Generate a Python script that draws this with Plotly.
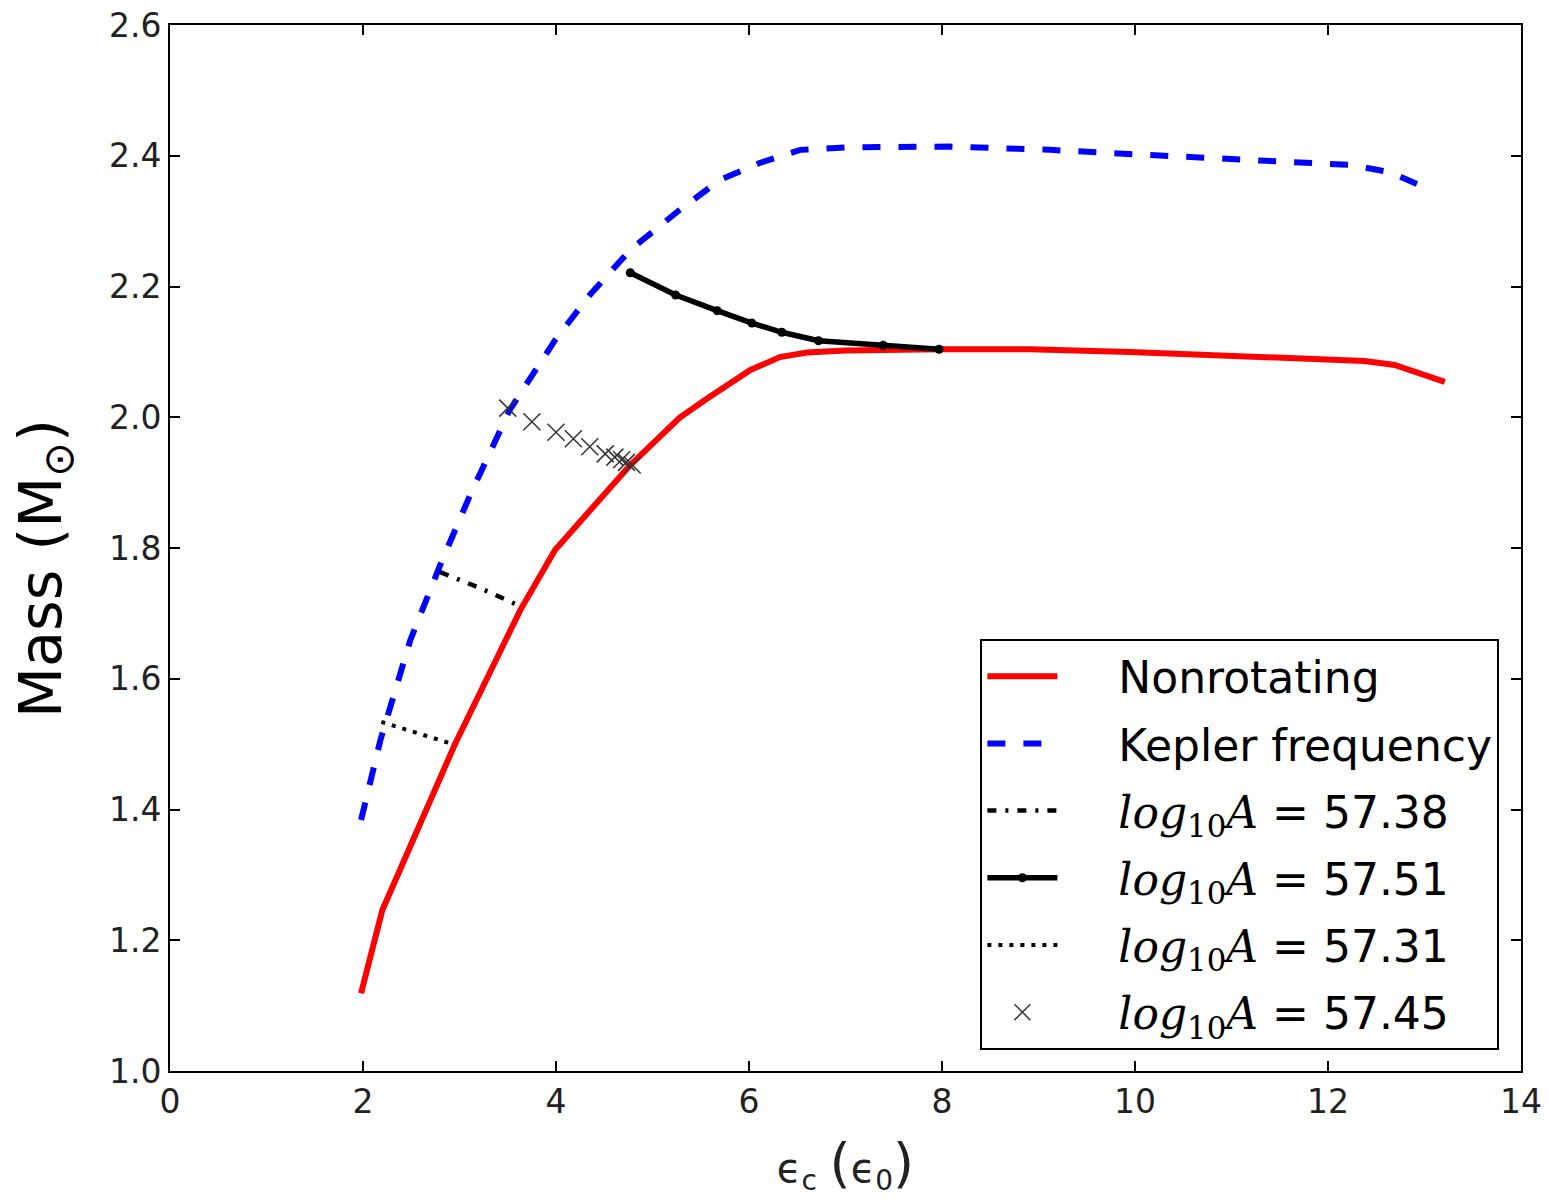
import plotly.graph_objects as go

# Nonrotating
nr_x = [1.98, 2.2, 2.95, 3.63, 3.99, 4.4, 4.77, 5.28, 5.54, 6.01, 6.32, 6.6, 7.0, 7.98, 8.91, 9.95, 11.19, 12.38, 12.69, 13.21]
nr_y = [1.119, 1.246, 1.499, 1.705, 1.797, 1.867, 1.927, 1.999, 2.026, 2.072, 2.092, 2.099, 2.102, 2.104, 2.104, 2.100, 2.092, 2.086, 2.080, 2.054]

# Kepler frequency
kp_x = [1.98, 2.18, 2.49, 2.80, 3.11, 3.52, 3.99, 4.35, 4.77, 5.28, 5.70, 6.11, 6.53, 7.05, 8.08, 9.12, 10.16, 11.19, 12.23, 12.64, 13.06]
kp_y = [1.384, 1.506, 1.659, 1.774, 1.881, 2.011, 2.118, 2.187, 2.256, 2.317, 2.363, 2.389, 2.409, 2.413, 2.414, 2.409, 2.401, 2.393, 2.386, 2.375, 2.348]

# log10A = 57.38
a38_x = [2.80, 3.21, 3.63]
a38_y = [1.763, 1.739, 1.711]

# log10A = 57.51
a51_x = [4.77, 5.24, 5.67, 6.03, 6.34, 6.72, 7.39, 7.97]
a51_y = [2.221, 2.187, 2.163, 2.144, 2.130, 2.117, 2.110, 2.104]

# log10A = 57.31
a31_x = [2.19, 2.93]
a31_y = [1.534, 1.500]

# log10A = 57.45
a45_x = [3.50, 3.75, 4.00, 4.18, 4.35, 4.51, 4.61, 4.68, 4.73, 4.79]
a45_y = [2.014, 1.993, 1.977, 1.967, 1.955, 1.944, 1.939, 1.935, 1.931, 1.927]

x_ticks = [0, 2, 4, 6, 8, 10, 12, 14]
y_ticks = [1.0, 1.2, 1.4, 1.6, 1.8, 2.0, 2.2, 2.4, 2.6]

PAD = "\u00a0" * 4

def lg(v):
    return (PAD + '<span style="font-family:\'DejaVu Serif\'"><i>log</i><sub>10</sub><i>A</i></span>'
            ' = ' + v)

fig = go.Figure()
fig.add_trace(go.Scatter(x=nr_x, y=nr_y, mode="lines", name=PAD + "Nonrotating",
                         line=dict(color="#ff0000", width=6), legendgroup="g1"))
fig.add_trace(go.Scatter(x=kp_x, y=kp_y, mode="lines", name=PAD + "Kepler frequency",
                         line=dict(color="#0000ff", width=6, dash="18px,18px"), legendgroup="g2"))
fig.add_trace(go.Scatter(x=a38_x, y=a38_y, mode="lines", name=lg("57.38"),
                         line=dict(color="black", width=4.5, dash="9px,9px,3px,9px"), legendgroup="g3"))
fig.add_trace(go.Scatter(x=a51_x, y=a51_y, mode="lines+markers", name=lg("57.51"),
                         line=dict(color="black", width=5.5),
                         marker=dict(symbol="circle", size=9, color="black"), legendgroup="g4"))
fig.add_trace(go.Scatter(x=a31_x, y=a31_y, mode="lines", name=lg("57.31"),
                         line=dict(color="black", width=4, dash="4px,7px"), legendgroup="g5"))
fig.add_trace(go.Scatter(x=a45_x, y=a45_y, mode="markers", name=lg("57.45"),
                         marker=dict(symbol="x-thin-open", size=17, color="#333333",
                                     line=dict(color="#333333", width=1.5)), legendgroup="g6"))

axis_common = dict(showline=True, linecolor="black", linewidth=2, mirror="ticks",
                   ticks="inside", ticklen=10, tickwidth=1.5, tickcolor="black",
                   showgrid=False, zeroline=False, automargin=False,
                   tickfont=dict(family="DejaVu Sans", size=33, color="#222222"))

fig.update_layout(
    width=1549, height=1203,
    margin=dict(l=170, r=28, t=25, b=132),
    paper_bgcolor="white", plot_bgcolor="white",
    xaxis=dict(range=[0, 14], tickvals=x_ticks, ticktext=[str(v) for v in x_ticks],
               title=dict(text="ϵ<sub>c</sub> <span style=\"font-size:54px\">(</span>ϵ<sub>0</sub><span style=\"font-size:54px\">)</span>",
                          font=dict(family="DejaVu Sans", size=40, color="#222222"),
                          standoff=34),
               **axis_common),
    yaxis=dict(range=[1.0, 2.6], tickvals=y_ticks, ticktext=["%.1f" % v for v in y_ticks],
               **axis_common),
    annotations=[dict(text="Mass (M<sub>⊙</sub>)", textangle=-90,
                      xref="paper", yref="paper", x=-0.0925, y=0.48,
                      xanchor="center", yanchor="middle", showarrow=False,
                      font=dict(family="DejaVu Sans", size=59, color="black"))],
    legend=dict(x=0.984, xanchor="right", y=0.02, yanchor="bottom",
                bgcolor="white", bordercolor="black", borderwidth=2,
                font=dict(family="DejaVu Sans", size=44, color="black"),
                traceorder="grouped", tracegroupgap=7, itemwidth=70),
    showlegend=True,
)

fig.write_html("out.html")
